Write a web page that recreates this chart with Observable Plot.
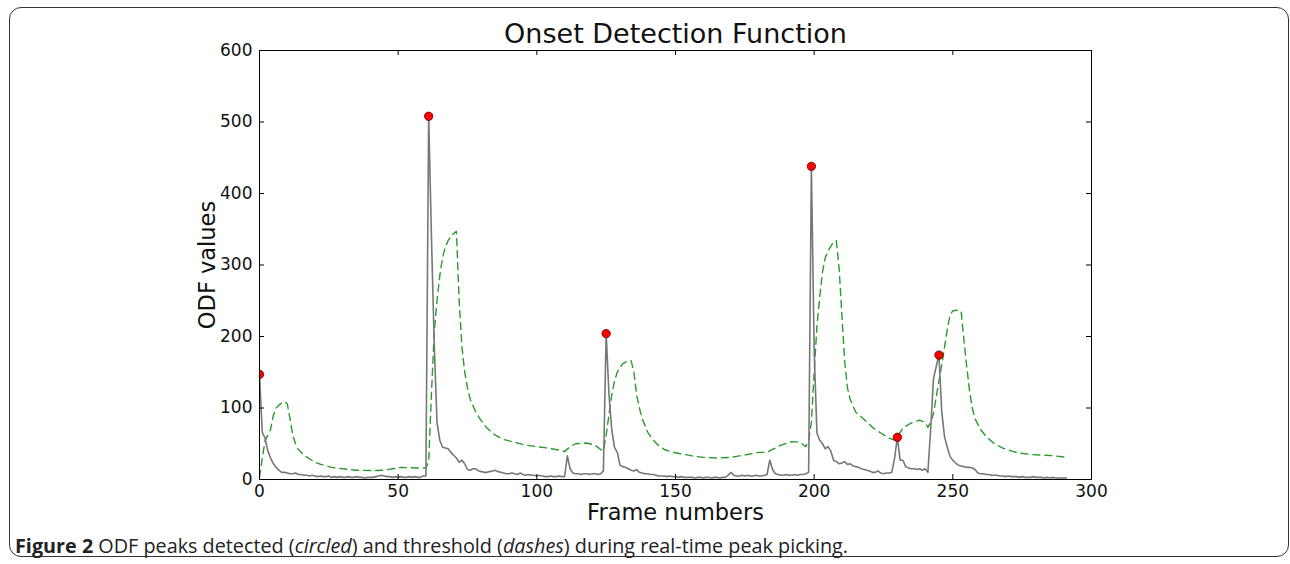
<!DOCTYPE html>
<html><head><meta charset="utf-8">
<script src="https://cdn.jsdelivr.net/npm/d3@7"></script>
<script src="https://cdn.jsdelivr.net/npm/@observablehq/plot@0.6"></script>
<style>
body{margin:0;background:#fff;width:1290px;height:564px;overflow:hidden;position:relative;font-family:"DejaVu Sans";}
#box{position:absolute;left:9px;top:7px;width:1280px;height:550px;border:1.5px solid #333;border-radius:12px;box-sizing:border-box;}
#chart{position:absolute;left:0;top:0;}
#caption{position:absolute;left:15px;top:536px;line-height:20px;font-family:"Open Sans";font-size:19.8px;color:#222;white-space:nowrap;}
</style></head>
<body>
<div id="box"></div>
<div id="chart"></div>
<div id="caption"><b>Figure 2</b> ODF peaks detected (<i>circled</i>) and threshold (<i>dashes</i>) during real-time peak picking.</div>
<script>
// ODF value for frames 0..291
const odfValues = [
147,66,58,40,30,22,17,13,10,10, 9,8,8,9,7,7,6,6,5,6,
5,4,5,4,4,5,3,4,3,4, 3,3,4,3,3,4,3,3,2,3,
3,3,4,5,6,5,4,4,3,4, 3,4,3,3,4,3,4,3,3,5,
5,508,340,190,80,55,45,44,43,38, 34,30,24,27,22,14,13,15,15,12,
11,10,10,11,12,13,11,10,9,8, 8,9,8,7,9,7,6,7,6,6,
5,6,5,4,4,5,4,4,5,4, 4,33,15,9,8,8,7,8,8,7,
8,8,7,8,12,204,120,70,45,38, 20,18,17,15,13,12,14,10,9,8,
8,7,7,6,5,5,5,4,5,4, 4,3,4,3,3,3,3,2,3,3,
2,3,3,2,3,3,2,3,3,6, 10,6,5,5,6,5,6,5,5,6,
5,5,6,7,27,14,8,7,6,6, 7,6,6,7,6,7,7,8,10,438,
180,65,55,50,43,46,40,27,25,22, 23,25,21,22,19,18,17,15,14,13,
12,10,10,12,9,8,9,9,10,30, 59,27,27,18,16,15,15,14,15,13,
15,10,70,140,158,174,95,60,45,32, 27,23,20,19,18,17,17,16,14,9,
8,8,7,7,6,6,6,5,5,4, 5,4,4,4,3,4,3,3,3,4,
3,3,3,2,3,2,3,2,2,2, 2,2
];
// Threshold (dashed) key frames and values
const thrFrames = [0,1,2,3,4,5,6,7,8,9,10,11,12,13,14,16,18,20,23,26,30,35,40,45,48,51,54,57,60,
61,62,63,64,65,66,67,68,69,70,71,72,73,74,75,76,78,80,82,85,88,92,96,100,104,108,110,112,114,118,121,123,124,
125,126,127,128,129,130,131,133,134,135,136,137,138,140,142,144,146,149,152,156,160,165,170,173,176,180,183,185,188,192,195,197,
198,199,200,201,202,203,204,205,206,207,208,209,210,211,212,213,215,218,221,224,227,229,230,232,235,238,240,241,
242,243,244,245,246,247,248,249,250,252,253,254,255,256,257,258,260,262,265,268,271,274,278,283,287,291];
const thrValues = [3,30,54,62,70,90,100,104,107,109,106,85,62,50,42,34,29,24,20,17,15,13,12.5,13,15,17,16.5,16,16,
25,120,205,250,285,310,325,334,340,344,347,250,185,150,128,112,94,82,72,62,56,52,48,46,44,41,39,46,50,51,48,42,40,
62,90,118,138,150,157,162,166,166,150,118,100,85,66,55,47,42,38,36,33,31,30,31,33,35,38,38,42,48,53,52,46,
55,80,150,215,255,290,310,320,326,332,334,295,230,165,128,112,94,84,73,65,58,55,60,72,79,83,80,73,
80,92,115,138,160,185,210,230,236,237,235,195,158,125,100,85,70,60,50,44,40,37,35,34,33,31];
// Detected peaks
const peakFrames = [0,61,125,199,230,245];
const peakValues = [147,508,204,438,59,174];
const xTicks = [0,50,100,150,200,250,300];
const yTicks = [0,100,200,300,400,500,600];
const titleText = "Onset Detection Function";
const xLabel = "Frame numbers";
const yLabel = "ODF values";

const odf = odfValues.map((v,i)=>({frame:i, value:v}));
const thr = thrFrames.map((f,i)=>({frame:f, value:thrValues[i]}));
const peaks = peakFrames.map((f,i)=>({frame:f, value:peakValues[i]}));

const W=1290, H=530, mL=259, mR=199, mT=50, mB=51;
const pw=W-mL-mR, ph=H-mT-mB;
const chart = Plot.plot({
  width:W, height:H, marginLeft:mL, marginRight:mR, marginTop:mT, marginBottom:mB,
  style:{fontFamily:"DejaVu Sans", fontSize:"17px", color:"#111", background:"transparent", overflow:"visible"},
  x:{domain:[0,300]}, y:{domain:[0,600]},
  marks:[
    Plot.line(thr, {x:"frame", y:"value", stroke:"#2a9a2a", strokeWidth:1.4, strokeDasharray:"7,5"}),
    Plot.line(odf, {x:"frame", y:"value", stroke:"#777", strokeWidth:1.6}),
    Plot.dot(peaks, {x:"frame", y:"value", r:4.2, fill:"#f00", stroke:"#500", strokeWidth:0.8, clip:true}),
    Plot.frame({stroke:"#000", strokeWidth:1}),
    Plot.ruleX(xTicks, {x:d=>d, insetTop:ph-5, stroke:"#000"}),
    Plot.ruleX(xTicks, {x:d=>d, insetBottom:ph-5, stroke:"#000"}),
    Plot.ruleY(yTicks, {y:d=>d, insetRight:pw-5, stroke:"#000"}),
    Plot.ruleY(yTicks, {y:d=>d, insetLeft:pw-5, stroke:"#000"}),
    Plot.axisX(xTicks, {tickSize:0, tickPadding:5, label:null, fill:"#111"}),
    Plot.axisY(yTicks, {tickSize:0, tickPadding:7, label:null, fill:"#111"}),
    Plot.text([titleText], {text:d=>d, frameAnchor:"top", lineAnchor:"middle", dy:-16, fontSize:27, fill:"#111"}),
    Plot.text([xLabel], {text:d=>d, frameAnchor:"bottom", lineAnchor:"middle", dy:33, fontSize:22.5, fill:"#111"}),
    Plot.text([yLabel], {text:d=>d, frameAnchor:"left", textAnchor:"middle", lineAnchor:"middle", dx:-52, rotate:-90, fontSize:22.5, fill:"#111"})
  ]
});
document.getElementById("chart").appendChild(chart);
</script>
</body></html>
